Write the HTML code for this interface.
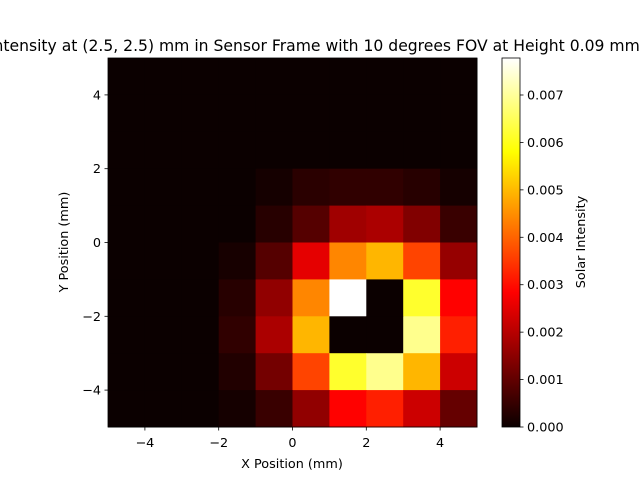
<!DOCTYPE html>
<html><head><meta charset="utf-8"><style>
body{margin:0;background:#fff}
svg text{font-family:"DejaVu Sans","Liberation Sans",sans-serif;font-size:12.8px;fill:#000}
</style></head><body>
<svg id="c" width="640" height="480">
<defs><linearGradient id="hot" x1="0" y1="1" x2="0" y2="0">
<stop offset="0" stop-color="#0b0000"/><stop offset="0.365" stop-color="#ff0000"/><stop offset="0.746" stop-color="#ffff00"/><stop offset="1" stop-color="#ffffff"/>
</linearGradient></defs>
<text x="292" y="51" text-anchor="middle" style="font-size:15.6px">Solar Intensity at (2.5, 2.5) mm in Sensor Frame with 10 degrees FOV at Height 0.09 mm</text>
<g id="cells"></g>
<rect x="108" y="58" width="369" height="369" fill="none" stroke="#000" stroke-width="0.8"/>
<g id="axes"></g>
<text x="292" y="468" text-anchor="middle">X Position (mm)</text>
<text transform="translate(68,242) rotate(-90)" text-anchor="middle">Y Position (mm)</text>
<rect x="502" y="58" width="18" height="369" fill="url(#hot)" stroke="#000" stroke-width="0.8"/>
<g id="cb"></g>
<text transform="translate(585,242) rotate(-90)" text-anchor="middle">Solar Intensity</text>
</svg>
<script>
const xEdges=[-5,-4,-3,-2,-1,0,1,2,3,4,5];
const yEdges=[-5,-4,-3,-2,-1,0,1,2,3,4,5];
// rows from top (y 4..5) to bottom (y -5..-4), columns x -5..5
const values=[
[0,0,0,0,0,0,0,0,0,0],
[0,0,0,0,0,0,0,0,0,0],
[0,0,0,0,0,0,0,0,0,0],
[0,0,0,0,0.00012,0.00037,0.00043,0.00043,0.00033,0.00012],
[0,0,0,0,0.00033,0.00087,0.00174,0.00186,0.00137,0.00054],
[0,0,0,0.00014,0.00087,0.00254,0.0044,0.00496,0.00363,0.00162],
[0,0,0,0.00033,0.00156,0.0044,0.00778,0,0.00615,0.00285],
[0,0,0,0.00043,0.00186,0.00496,0,0,0.0069,0.0032],
[0,0,0,0.00026,0.00122,0.00363,0.00615,0.0069,0.00496,0.00225],
[0,0,0,0.00012,0.00054,0.00156,0.00285,0.0032,0.00225,0.00105]];
const xTicks=[-4,-2,0,2,4];
const yTicks=[-4,-2,0,2,4];
const cbTicks=[0,0.001,0.002,0.003,0.004,0.005,0.006,0.007];
const vmin=0,vmax=0.00778;
const NS="http://www.w3.org/2000/svg";
const X=v=>108+(v+5)/10*369, Y=v=>427-(v+5)/10*369, CB=v=>427-(v-vmin)/(vmax-vmin)*369;
function hot(t){t=Math.max(0,Math.min(1,t));
const r=Math.min(1,0.0416+t/0.365*0.9584),g=Math.max(0,Math.min(1,(t-0.365)/0.381)),b=Math.max(0,Math.min(1,(t-0.746)/0.254));
return `rgb(${Math.round(r*255)},${Math.round(g*255)},${Math.round(b*255)})`;}
function mk(tag,attrs,p){const e=document.createElementNS(NS,tag);for(const k in attrs)e.setAttribute(k,attrs[k]);p.appendChild(e);return e;}
const cells=document.getElementById('cells');
values.forEach((row,i)=>row.forEach((v,j)=>{
const y1=yEdges[9-i+1],y0=yEdges[9-i];
const r=mk('rect',{x:X(xEdges[j]),y:Y(y1),width:X(xEdges[j+1])-X(xEdges[j])+0.5,height:Y(y0)-Y(y1)+0.5,fill:hot((v-vmin)/(vmax-vmin))},cells);


}));
const ax=document.getElementById('axes');
xTicks.forEach(t=>{const x=X(t);
const l=mk('line',{x1:x,x2:x,y1:427,y2:430.5,stroke:'#000','stroke-width':0.8},ax);


const tx=mk('text',{x:x,y:447,'text-anchor':'middle'},ax);tx.textContent=String(t).replace('-','\u2212');

});
yTicks.forEach(t=>{const y=Y(t);
const l=mk('line',{x1:104.5,x2:108,y1:y,y2:y,stroke:'#000','stroke-width':0.8},ax);


const tx=mk('text',{x:101,y:y+4.5,'text-anchor':'end'},ax);tx.textContent=String(t).replace('-','\u2212');

});
const cb=document.getElementById('cb');
cbTicks.forEach(t=>{const y=CB(t);
const l=mk('line',{x1:520,x2:523.5,y1:y,y2:y,stroke:'#000','stroke-width':0.8},cb);


const tx=mk('text',{x:527,y:y+4.5},cb);tx.textContent=t.toFixed(3);

});
</script>
</body></html>
